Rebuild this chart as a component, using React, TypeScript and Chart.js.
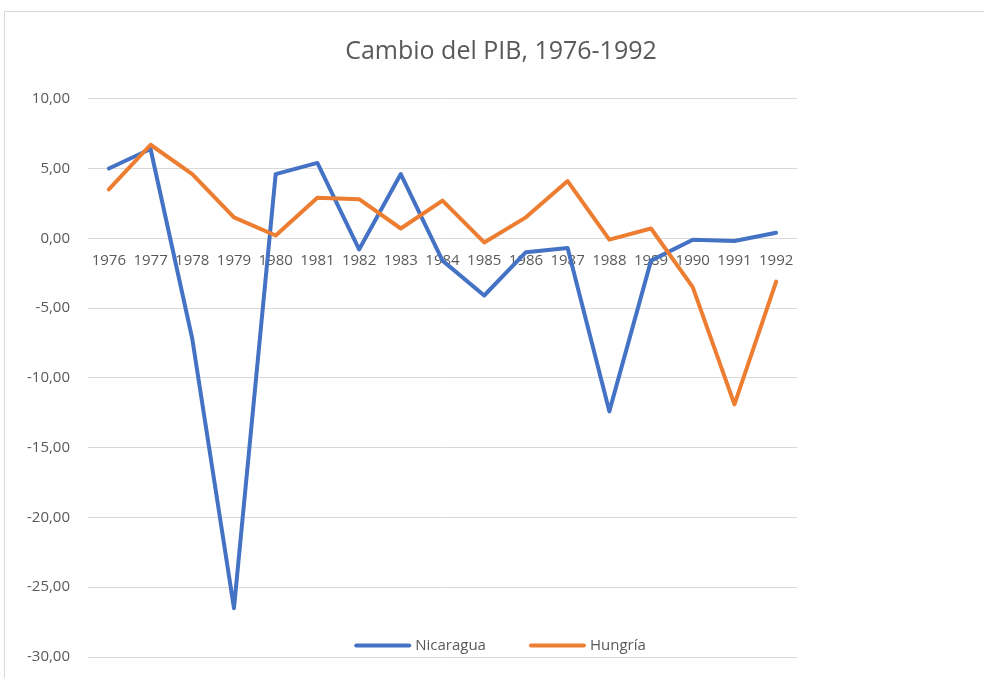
import React, { useEffect, useRef } from 'react';
import { Chart, registerables } from 'chart.js';

Chart.register(...registerables);

const years = ['1976', '1977', '1978', '1979', '1980', '1981', '1982', '1983', '1984', '1985', '1986', '1987', '1988', '1989', '1990', '1991', '1992'];
const nicaragua = [5.0, 6.4, -7.2, -26.5, 4.6, 5.4, -0.8, 4.6, -1.6, -4.1, -1.0, -0.7, -12.4, -1.6, -0.1, -0.2, 0.4];
const hungria = [3.5, 6.7, 4.6, 1.5, 0.2, 2.9, 2.8, 0.7, 2.7, -0.3, 1.5, 4.1, -0.1, 0.7, -3.5, -11.9, -3.1];
const seriesNames = ['Nicaragua', 'Hungría'];
const seriesColors = ['#4472C4', '#ED7D31'];
const titleText = 'Cambio del PIB, 1976-1992';

const FONT = "'Open Sans', sans-serif";
const TEXT = '#595959';

const framePlugin = {
  id: 'frame',
  beforeDraw(chart: any) {
    const ctx = chart.ctx;
    ctx.save();
    ctx.fillStyle = '#ffffff';
    ctx.fillRect(0, 0, chart.width, chart.height);
    ctx.strokeStyle = '#D9D9D9';
    ctx.lineWidth = 1;
    ctx.strokeRect(4.5, 11.5, chart.width - 9, chart.height + 20);
    ctx.restore();
  },
};

const legendPlugin = {
  id: 'customLegend',
  afterDraw(chart: any) {
    const ctx = chart.ctx;
    ctx.save();
    ctx.font = `15px ${FONT}`;
    const lineLen = 53;
    const gapLT = 6;
    const gapItems = 45;
    const ds = chart.data.datasets;
    const widths = ds.map((d: any) => lineLen + gapLT + ctx.measureText(d.label).width);
    const total = widths.reduce((a: number, b: number) => a + b, 0) + gapItems * (ds.length - 1);
    let x = 501 - total / 2;
    const y = 645.5;
    ds.forEach((d: any, i: number) => {
      ctx.strokeStyle = d.borderColor;
      ctx.lineWidth = 4;
      ctx.lineCap = 'round';
      ctx.beginPath();
      ctx.moveTo(x, y);
      ctx.lineTo(x + lineLen, y);
      ctx.stroke();
      ctx.fillStyle = TEXT;
      ctx.textBaseline = 'middle';
      ctx.textAlign = 'left';
      ctx.fillText(d.label, x + lineLen + gapLT, y);
      x += widths[i] + gapItems;
    });
    ctx.restore();
  },
};

export default function App() {
  const ref = useRef<HTMLCanvasElement>(null);
  useEffect(() => {
    if (!ref.current) return;
    const chart = new Chart(ref.current, {
      type: 'line',
      data: {
        labels: years,
        datasets: [
          {
            label: seriesNames[0],
            data: nicaragua,
            borderColor: seriesColors[0],
            backgroundColor: seriesColors[0],
            borderWidth: 4,
            pointRadius: 0,
            tension: 0,
            borderCapStyle: 'round',
            borderJoinStyle: 'round',
            order: 1,
          },
          {
            label: seriesNames[1],
            data: hungria,
            borderColor: seriesColors[1],
            backgroundColor: seriesColors[1],
            borderWidth: 4,
            pointRadius: 0,
            tension: 0,
            borderCapStyle: 'round',
            borderJoinStyle: 'round',
            order: 0,
          },
        ],
      },
      options: {
        responsive: false,
        animation: false,
        layout: { padding: { left: 0, right: 0, top: 0, bottom: 16 } },
        plugins: {
          legend: { display: false },
          tooltip: { enabled: false },
          title: {
            display: true,
            text: titleText,
            color: TEXT,
            font: { family: FONT, size: 25, weight: 'normal' },
            padding: { top: 37, bottom: 31.7 },
          },
        },
        scales: {
          x: {
            type: 'category',
            offset: true,
            position: { y: 0 } as any,
            grid: { display: false },
            border: { display: false },
            ticks: {
              color: TEXT,
              font: { family: FONT, size: 15 },
              autoSkip: false,
              maxRotation: 0,
              minRotation: 0,
              padding: 5,
            },
          },
          y: {
            type: 'linear',
            position: 'left',
            min: -30,
            max: 10,
            ticks: {
              stepSize: 5,
              color: TEXT,
              font: { family: FONT, size: 15 },
              padding: 18,
              callback: (v: any) => Number(v).toFixed(2).replace('.', ','),
            },
            grid: { color: '#D9D9D9', lineWidth: 1, drawTicks: false },
            border: { display: false },
            afterFit: (s: any) => {
              s.width = 88;
            },
          },
          yr: {
            type: 'linear',
            position: 'right',
            display: true,
            ticks: { display: false },
            grid: { display: false, drawTicks: false },
            border: { display: false },
            afterFit: (s: any) => {
              s.width = 205;
            },
          },
        },
      },
      plugins: [framePlugin, legendPlugin],
    });
    return () => chart.destroy();
  }, []);
  return (
    <div style={{ position: 'fixed', left: 0, top: 0, width: 984, height: 678, overflow: 'hidden', background: '#fff' }}>
      <canvas ref={ref} width={1002} height={684} style={{ width: 1002, height: 684, display: 'block' }} />
    </div>
  );
}
